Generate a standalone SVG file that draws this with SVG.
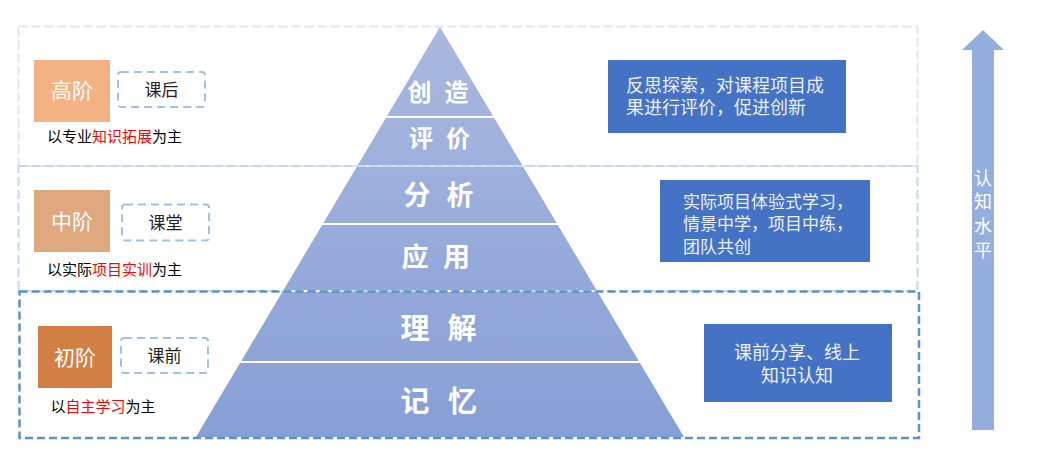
<svg xmlns="http://www.w3.org/2000/svg" width="1046" height="474" viewBox="0 0 1046 474">
  <style>
    text { font-family: "Noto Sans CJK SC", "Microsoft YaHei", sans-serif; }
    .lvl { font-size: 21px; fill: #ffffff; text-anchor: middle; }
    .tag { fill: #ffffff; stroke: #9dc3e6; stroke-width: 2; stroke-dasharray: 8 5; }
    .tagt { font-size: 17px; fill: #222222; text-anchor: middle; }
    .note { font-size: 15px; fill: #000000; }
    .red { fill: #ff0000; }
    .py { font-weight: bold; fill: #ffffff; text-anchor: middle; }
    .desc { fill: #4472c4; }
    .dt { fill: #edf1fa; }
    .sep { stroke: #ffffff; stroke-width: 2; }
  </style>
  <defs>
    <linearGradient id="pg" x1="0" y1="27" x2="0" y2="437" gradientUnits="userSpaceOnUse">
      <stop offset="0" stop-color="#aab8de"/>
      <stop offset="1" stop-color="#879fd7"/>
    </linearGradient>
  </defs>
  <rect width="1046" height="474" fill="#ffffff"/>

  <!-- pyramid -->
  <g id="pyramid">
    <polygon points="440,27 684,437 196,437" fill="url(#pg)"/>
    <line class="sep" x1="385" y1="117" x2="495" y2="117"/>
    <line class="sep" x1="356" y1="166" x2="524" y2="166"/>
    <line class="sep" x1="321" y1="224" x2="559" y2="224"/>
    <line class="sep" x1="282" y1="291" x2="598" y2="291"/>
    <line class="sep" x1="239" y1="362" x2="641" y2="362"/>
    <text class="py" font-size="24" x="419.5 456.5" y="100.5">创造</text>
    <text class="py" font-size="24" x="421 458" y="147">评价</text>
    <text class="py" font-size="27" x="417 460" y="204.5">分析</text>
    <text class="py" font-size="27" x="415 456.5" y="267">应用</text>
    <text class="py" font-size="29" x="415 462" y="338.5">理解</text>
    <text class="py" font-size="29" x="415 462.5" y="412">记忆</text>
  </g>

  <!-- band frames -->
  <g id="bands" fill="none">
    <rect x="18.5" y="26.5" width="899" height="139.5" stroke="#dde8f5" stroke-width="2" stroke-dasharray="9 4"/>
    <rect x="18.5" y="166" width="899" height="125" stroke="#c3d9ef" stroke-width="2" stroke-dasharray="9 4"/>
    <rect x="19.5" y="291.5" width="899.5" height="146.5" stroke="#5b92c8" stroke-width="2.5" stroke-dasharray="8 4"/>
  </g>

  <!-- high level -->
  <g id="high">
    <rect x="34" y="60" width="76" height="62" fill="#f4b183"/>
    <text class="lvl" x="72" y="97.5">高阶</text>
    <rect class="tag" x="118" y="72" width="87" height="35" rx="3"/>
    <text class="tagt" x="161.5" y="96">课后</text>
    <text class="note" x="47" y="142">以专业<tspan class="red">知识拓展</tspan>为主</text>
  </g>

  <!-- mid level -->
  <g id="mid">
    <rect x="34" y="190" width="76" height="62" fill="#e0a87e"/>
    <text class="lvl" x="72" y="228.5">中阶</text>
    <rect class="tag" x="122" y="204.5" width="87" height="36" rx="3"/>
    <text class="tagt" x="165.5" y="228.5">课堂</text>
    <text class="note" x="47" y="274.5">以实际<tspan class="red">项目实训</tspan>为主</text>
  </g>

  <!-- low level -->
  <g id="low">
    <rect x="38" y="326" width="74" height="62" fill="#d27f44"/>
    <text class="lvl" x="75" y="364.5">初阶</text>
    <rect class="tag" x="121" y="338" width="87" height="35" rx="3"/>
    <text class="tagt" x="164.5" y="362">课前</text>
    <text class="note" x="50.5" y="412">以<tspan class="red">自主学习</tspan>为主</text>
  </g>

  <!-- descriptions -->
  <g id="desc-high">
    <rect class="desc" x="608" y="60" width="238" height="73"/>
    <text class="dt" font-size="18"><tspan x="626" y="91.5">反思探索，对课程项目成</tspan><tspan x="626" y="113.5">果进行评价，促进创新</tspan></text>
  </g>
  <g id="desc-mid">
    <rect class="desc" x="660" y="180" width="210" height="82"/>
    <text class="dt" font-size="17"><tspan x="683" y="208">实际项目体验式学习，</tspan><tspan x="683" y="230">情景中学，项目中练，</tspan><tspan x="683" y="253">团队共创</tspan></text>
  </g>
  <g id="desc-low">
    <rect class="desc" x="704" y="324" width="188" height="78"/>
    <text class="dt" font-size="18" text-anchor="middle"><tspan x="797" y="359">课前分享、线上</tspan><tspan x="797" y="381.5">知识认知</tspan></text>
  </g>

  <!-- cognition arrow -->
  <g id="arrow">
    <polygon points="983,30 1004,50 994,50 994,430 972,430 972,50 962,50" fill="#94aedd"/>
    <text font-size="18" fill="#ffffff" text-anchor="middle" x="983 983 983 983" y="184.5 208 233 256.5">认知水平</text>
  </g>
</svg>
